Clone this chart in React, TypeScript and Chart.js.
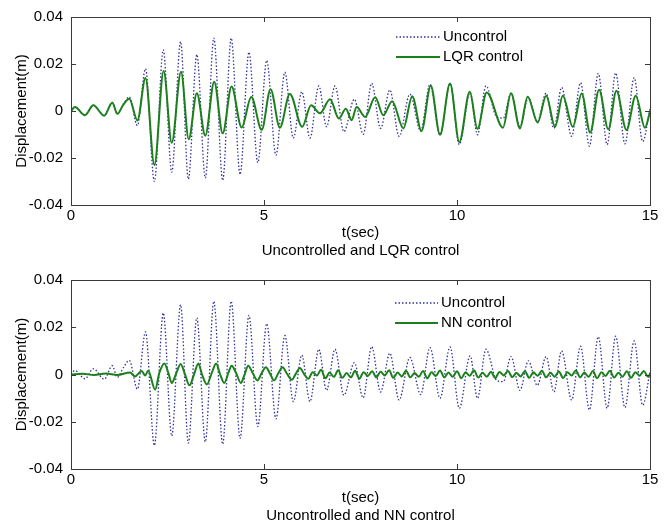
import React, { useEffect, useRef } from 'react';
import { Chart, registerables } from 'chart.js';

Chart.register(...registerables);

// ---- data ----
const xTickValues = [0, 5, 10, 15];
const yTickValues = [-0.04, -0.02, 0, 0.02, 0.04];

const uncTime = [0, 0.10, 0.36, 0.58, 0.86, 1.07, 1.20, 1.36, 1.51, 1.72, 1.93, 2.16, 2.39, 2.61, 2.84, 3.04, 3.26, 3.48, 3.70, 3.93, 4.15, 4.38, 4.61, 4.84, 5.07, 5.31, 5.54, 5.76, 5.98, 6.19, 6.42, 6.62, 6.84, 7.07, 7.34, 7.57, 7.79, 8.02, 8.26, 8.50, 8.78, 9.06, 9.30, 9.56, 9.82, 10.06, 10.34, 10.53, 10.75, 11.03, 11.20, 11.40, 11.63, 11.85, 12.08, 12.31, 12.51, 12.71, 12.97, 13.20, 13.43, 13.66, 13.89, 14.11, 14.35, 14.59, 14.81, 15.00];
const uncDisp = [0, 0.0017, -0.0018, 0.0024, -0.0020, 0.0037, -0.0012, 0.0030, 0.0060, -0.0062, 0.0180, -0.0300, 0.0260, -0.0260, 0.0295, -0.0290, 0.0240, -0.0285, 0.0310, -0.0295, 0.0310, -0.0270, 0.0250, -0.0220, 0.0215, -0.0188, 0.0165, -0.0115, 0.0082, -0.0115, 0.0107, -0.0067, 0.0107, -0.0088, 0.0050, -0.0099, 0.0118, -0.0074, 0.0090, -0.0108, 0.0072, -0.0085, 0.0114, -0.0101, 0.0117, -0.0143, 0.0079, -0.0101, 0.0107, -0.0025, -0.0030, 0.0076, -0.0067, 0.0058, -0.0046, 0.0076, -0.0074, 0.0100, -0.0108, 0.0120, -0.0150, 0.0160, -0.0143, 0.0162, -0.0140, 0.0142, -0.0130, 0.0010];

const lqrTime = [0, 0.10, 0.36, 0.58, 0.86, 1.07, 1.20, 1.36, 1.51, 1.72, 1.93, 2.16, 2.40, 2.61, 2.85, 3.05, 3.26, 3.48, 3.71, 3.93, 4.16, 4.42, 4.67, 4.94, 5.17, 5.41, 5.67, 5.99, 6.22, 6.45, 6.71, 6.94, 7.12, 7.27, 7.40, 7.62, 7.88, 8.09, 8.32, 8.61, 8.84, 9.08, 9.32, 9.56, 9.82, 10.06, 10.33, 10.53, 10.77, 11.19, 11.40, 11.63, 11.83, 12.09, 12.31, 12.54, 12.74, 13.00, 13.23, 13.45, 13.68, 13.92, 14.13, 14.39, 14.63, 14.87, 15.00];
const lqrDisp = [0, 0.0017, -0.0018, 0.0024, -0.0020, 0.0035, -0.0012, 0.0028, 0.0052, -0.0040, 0.0140, -0.0230, 0.0170, -0.0135, 0.0167, -0.0120, 0.0076, -0.0105, 0.0125, -0.0095, 0.0104, -0.0070, 0.0060, -0.0080, 0.0093, -0.0071, 0.0072, -0.0067, 0.0024, -0.0010, 0.0050, -0.0032, 0.0010, -0.0039, 0.0017, -0.0025, 0.0058, -0.0018, 0.0042, -0.0074, 0.0063, -0.0085, 0.0107, -0.0101, 0.0117, -0.0132, 0.0082, -0.0076, 0.0079, -0.0071, 0.0076, -0.0074, 0.0061, -0.0049, 0.0065, -0.0067, 0.0065, -0.0067, 0.0075, -0.0092, 0.0090, -0.0078, 0.0086, -0.0081, 0.0065, -0.0071, -0.0004];

const nnTime = [0, 0.3, 0.6, 0.9, 1.2, 1.53, 1.66, 1.83, 1.92, 2.00, 2.18, 2.29, 2.42, 2.52, 2.61, 2.72, 2.84, 2.95, 3.07, 3.19, 3.30, 3.39, 3.52, 3.65, 3.76, 3.86, 3.97, 4.08, 4.16, 4.28, 4.40, 4.50, 4.59, 4.71, 4.83, 4.94, 5.05, 5.16, 5.26, 5.37, 5.48, 5.60, 5.72, 5.83, 5.93, 6.04, 6.15,
  6.26, 6.37, 6.48, 6.59, 6.70, 6.81, 6.92, 7.03, 7.14, 7.25, 7.36, 7.47, 7.58, 7.69, 7.80, 7.91, 8.02, 8.13, 8.24, 8.35, 8.46, 8.57, 8.68, 8.79, 8.90, 9.01, 9.12, 9.23, 9.34, 9.45, 9.56, 9.67, 9.78, 9.89, 10.00, 10.11, 10.22, 10.33, 10.44, 10.55, 10.66, 10.77, 10.88, 10.99, 11.10, 11.21, 11.32, 11.43, 11.54, 11.65, 11.76, 11.87, 11.98, 12.09, 12.20, 12.31, 12.42, 12.53, 12.64, 12.75, 12.86, 12.97, 13.08, 13.19, 13.30, 13.41, 13.52, 13.63, 13.74, 13.85, 13.96, 14.07, 14.18, 14.29, 14.40, 14.51, 14.62, 14.73, 14.84, 14.95, 15.00];
const nnDisp = [0, 0.0003, -0.0002, 0.0004, -0.0002, 0.0008, -0.0008, 0.0015, -0.0004, 0.0016, -0.0064, 0.0008, 0.0047, 0.0008, -0.0036, 0.0002, 0.0044, 0.0002, -0.0046, 0.0002, 0.0047, 0.0002, -0.0042, 0.0008, 0.0047, 0.0002, -0.0036, 0.0008, 0.0037, 0.0005, -0.0036, 0.0002, 0.0037, 0.0005, -0.0025, 0.0006, 0.0031, 0.0002, -0.0025, 0.0005, 0.0031, 0.0002, -0.0022, 0.0005, 0.0028, 0.0002, -0.0018,
  0.0010, -0.0004, 0.0020, -0.0016, 0.0008, -0.0010, 0.0018, -0.0014, 0.0006, -0.0012,
  0.0016, -0.0018, 0.0010, -0.0006, 0.0014, -0.0012, 0.0012, -0.0004, 0.0018, -0.0014,
  0.0008, -0.0008, 0.0016, -0.0012, 0.0006, -0.0010, 0.0015, -0.0016, 0.0010, -0.0006,
  0.0017, -0.0012, 0.0008, -0.0010, 0.0014, -0.0016, 0.0009, -0.0005, 0.0018, -0.0013,
  0.0007, -0.0009, 0.0012, -0.0015, 0.0011, -0.0004, 0.0015, -0.0011, 0.0006, -0.0008,
  0.0014, -0.0014, 0.0009, -0.0005, 0.0016, -0.0012, 0.0007, -0.0009, 0.0013, -0.0015,
  0.0010, -0.0004, 0.0017, -0.0012, 0.0008, -0.0010, 0.0015, -0.0016, 0.0009, -0.0006,
  0.0016, -0.0013, 0.0007, -0.0009, 0.0014, -0.0014, 0.0010, -0.0005, 0.0015, -0.0010, 0.0002];

// ---- styles ----
const UNC_COLOR = '#30309a';
const CTRL_COLOR = '#1b801b';
const AXIS_COLOR = '#3a3a3a';
const FONT_FAMILY = '"Liberation Sans", Arial, Helvetica, sans-serif';

const pts = (t: number[], v: number[]) => t.map((x, i) => ({ x, y: v[i] }));

const framePlugin = {
  id: 'frame',
  afterDraw(chart: any, _args: any, opts: any) {
    const { ctx, chartArea: a, scales } = chart;
    ctx.save();
    ctx.strokeStyle = AXIS_COLOR;
    ctx.lineWidth = 1;
    ctx.strokeRect(Math.round(a.left) + 0.5, Math.round(a.top) + 0.5, Math.round(a.right - a.left), Math.round(a.bottom - a.top));
    const tl = 5;
    ctx.beginPath();
    xTickValues.forEach((v) => {
      const x = Math.round(scales.x.getPixelForValue(v)) + 0.5;
      ctx.moveTo(x, a.bottom);
      ctx.lineTo(x, a.bottom - tl);
      ctx.moveTo(x, a.top);
      ctx.lineTo(x, a.top + tl);
    });
    yTickValues.forEach((v) => {
      const y = Math.round(scales.y.getPixelForValue(v)) + 0.5;
      ctx.moveTo(a.left, y);
      ctx.lineTo(a.left + tl, y);
      ctx.moveTo(a.right, y);
      ctx.lineTo(a.right - tl, y);
    });
    ctx.stroke();

    // legend inside the axes (upper right)
    const ds = chart.data.datasets;
    ctx.font = `15px ${FONT_FAMILY}`;
    ctx.textBaseline = 'middle';
    ctx.textAlign = 'left';
    ds.forEach((d: any, i: number) => {
      const y = a.top + opts.legendTop + i * 20;
      ctx.beginPath();
      ctx.strokeStyle = d.borderColor;
      ctx.lineWidth = d.borderWidth;
      ctx.setLineDash(d.borderDash || []);
      ctx.moveTo(opts.legendX0, y);
      ctx.lineTo(opts.legendX1, y);
      ctx.stroke();
      ctx.setLineDash([]);
      ctx.fillStyle = '#000';
      ctx.fillText(d.label, opts.legendX1 + 3, y);
    });
    ctx.restore();
  },
};

type PanelProps = {
  top: number;
  height: number;
  ctrlLabel: string;
  ctrlTime: number[];
  ctrlDisp: number[];
  caption: string;
  captionPad: number;
  legendTop: number;
  legendX0: number;
  legendX1: number;
};

function Panel(p: PanelProps) {
  const ref = useRef<HTMLCanvasElement>(null);
  useEffect(() => {
    const font = { family: FONT_FAMILY, size: 15, lineHeight: 1.2 };
    const chart = new Chart(ref.current as HTMLCanvasElement, {
      type: 'line',
      data: {
        datasets: [
          {
            label: 'Uncontrol',
            data: pts(uncTime, uncDisp),
            borderColor: UNC_COLOR,
            borderWidth: 1.3,
            borderDash: [1.5, 2],
            pointRadius: 0,
            cubicInterpolationMode: 'monotone',
            fill: false,
            order: 2,
          },
          {
            label: p.ctrlLabel,
            data: pts(p.ctrlTime, p.ctrlDisp),
            borderColor: CTRL_COLOR,
            borderWidth: 2,
            pointRadius: 0,
            cubicInterpolationMode: 'monotone',
            fill: false,
            order: 1,
          },
        ],
      },
      options: {
        responsive: false,
        animation: false,
        events: [],
        layout: { padding: { top: 13, right: 22, left: 0, bottom: 0 } },
        plugins: {
          legend: { display: false },
          tooltip: { enabled: false },
          frame: { legendTop: p.legendTop, legendX0: p.legendX0, legendX1: p.legendX1 },
        } as any,
        scales: {
          x: {
            type: 'linear',
            min: 0,
            max: 15,
            afterBuildTicks: (s: any) => {
              s.ticks = xTickValues.map((v) => ({ value: v }));
            },
            afterFit: (s: any) => {
              s.height = 58;
            },
            grid: { display: false, drawTicks: false },
            border: { display: false },
            ticks: { padding: 2, color: '#000', font, maxRotation: 0, autoSkip: false },
            title: {
              display: true,
              text: ['t(sec)', p.caption],
              color: '#000',
              font,
              padding: { top: 0, bottom: p.captionPad },
            },
          },
          y: {
            type: 'linear',
            min: -0.04,
            max: 0.04,
            afterBuildTicks: (s: any) => {
              s.ticks = yTickValues.map((v) => ({ value: v }));
            },
            afterFit: (s: any) => {
              s.width = 71;
            },
            grid: { display: false, drawTicks: false },
            border: { display: false },
            ticks: {
              padding: 8,
              color: '#000',
              font,
              autoSkip: false,
              callback: (v: any) => {
                const n = Number(v);
                return Math.abs(n) < 1e-9 ? '0' : String(parseFloat(n.toFixed(2)));
              },
            },
            title: {
              display: true,
              text: 'Displacement(m)',
              color: '#000',
              font,
              padding: { top: 13, bottom: 0 },
            },
          },
        },
      },
      plugins: [framePlugin as any],
    });
    return () => chart.destroy();
  }, []);
  return (
    <canvas
      ref={ref}
      width={672}
      height={p.height}
      style={{ position: 'absolute', left: 0, top: p.top, display: 'block' }}
    />
  );
}

export default function App() {
  return (
    <div style={{ position: 'absolute', left: 0, top: 0, width: 672, height: 527, background: '#fff' }}>
      <Panel
        top={0}
        height={263}
        ctrlLabel="LQR control"
        ctrlTime={lqrTime}
        ctrlDisp={lqrDisp}
        caption="Uncontrolled and LQR control"
        captionPad={3}
        legendTop={20}
        legendX0={396}
        legendX1={440}
      />
      <Panel
        top={263}
        height={264}
        ctrlLabel="NN control"
        ctrlTime={nnTime}
        ctrlDisp={nnDisp}
        caption="Uncontrolled and NN control"
        captionPad={2}
        legendTop={23}
        legendX0={395}
        legendX1={438}
      />
    </div>
  );
}
